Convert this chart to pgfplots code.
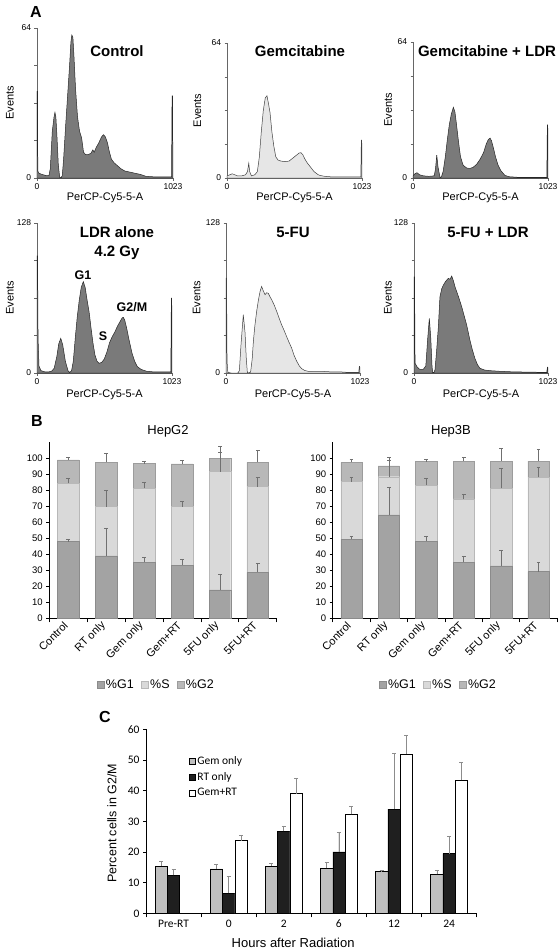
\documentclass[border=0pt]{standalone}
\usepackage{fontspec}
\setmainfont{Liberation Sans}
\newfontfamily\carlito{Carlito}
\usepackage{pgfplots}
\pgfplotsset{compat=1.18}
\definecolor{histdark}{HTML}{7A7A7A}
\definecolor{histlight}{HTML}{E6E6E6}
\definecolor{gone}{HTML}{A3A3A3}
\definecolor{sph}{HTML}{D9D9D9}
\definecolor{gtwo}{HTML}{B8B8B8}
\definecolor{errc}{HTML}{707070}
\newcommand{\fs}[1]{\fontsize{#1bp}{#1bp}\selectfont}
\pgfplotsset{
 hist/.style={scale only axis, xmin=0, xmax=1023, ymin=0, axis lines=left,
   axis line style={-, draw=black!60, line width=0.6pt},
   tick style={draw=black!60, line width=0.5pt}, tick align=outside, major tick length=2.5bp,
   xtick={0,1023}, xticklabels={0,1023},
   xlabel={PerCP-Cy5-5-A}, ylabel={Events},
   tick label style={font=\fs{8.5}}, label style={font=\fs{11}},
   xlabel style={at={(axis description cs:0.5,0)}, anchor=center, yshift=-20bp},
   clip=false},
 h64/.style={ymax=64, ytick={0,16,32,48,64}, yticklabels={0,,,,64}},
 h128/.style={ymax=128, ytick={0,32,64,96,128}, yticklabels={0,,,,128}},
 darkh/.style={fill=histdark, draw=black!85, line width=0.5pt},
 lighth/.style={fill=histlight, draw=black!75, line width=0.5pt},
 barB/.style={scale only axis, ybar stacked, ymin=0, ymax=110, xmin=-0.5, xmax=5.5, height=176bp,
   axis lines=left, axis line style={-, draw=black, line width=0.8pt},
   xtick={0,...,5}, xticklabels={Control,RT only,Gem only,Gem+RT,5FU only,5FU+RT},
   major x tick style={draw=none}, minor xtick={-0.5,0.5,...,5.5},
   minor x tick style={draw=black, line width=0.8pt},
   ytick={0,10,...,100}, ytick style={draw=black, line width=0.8pt},
   tick align=outside, major tick length=3bp, minor tick length=4bp,
   xticklabel style={rotate=45, anchor=east, font=\fs{11}},
   yticklabel style={font=\fs{9.5}},
   /pgf/number format/assume math mode=true,
   legend style={draw=none, fill=none, legend columns=3, font=\fs{12.5},
     /tikz/every even column/.append style={column sep=5bp},
     at={(axis description cs:0.47,-0.38)}, anchor=center},
   legend image code/.code={\fill[##1] (0bp,-3.5bp) rectangle (7bp,3.5bp);}},
 errB/.style={scale only axis, hide axis, ymin=0, ymax=110, xmin=-0.5, xmax=5.5, height=176bp},
 eb/.style={draw=none, mark=none, forget plot, error bars/.cd, y dir=plus, y explicit,
   error bar style={draw=errc, line width=0.6pt},
   error mark options={rotate=90, draw=errc, line width=0.6pt, mark size=1.8bp}},
 ebC/.style={error bars/.cd, y dir=plus, y explicit,
   error bar style={draw=black!45, line width=0.6pt},
   error mark options={rotate=90, draw=black!45, line width=0.6pt, mark size=2bp}},
 legC/.style={legend image code/.code={\draw[##1, line width=0.5pt] (0bp,-3bp) rectangle (6bp,3bp);}},
}
\begin{document}
\begin{tikzpicture}
\useasboundingbox (0,0) rectangle (559bp,-952bp);
% ---------------- Panel A ----------------
\begin{axis}[hist, h64, at={(37bp,-178bp)}, anchor=south west, width=136bp, height=150bp,
  ylabel style={at={(axis description cs:-0.2,0.5)}, anchor=center}]
\addplot[darkh] coordinates {(0,0) (0,37) (4,37) (6,3) (15,2) (40,1.5) (70,1) (90,1) (100,4) (115,20) (128,26) (135,28) (142,26) (150,18) (160,6) (170,0.5) (180,0) (190,1) (200,8) (215,22) (230,35) (245,48) (255,58) (262,61) (270,60) (278,52) (290,38) (305,26) (320,20) (336,17) (350,11) (365,10) (385,10) (405,10.5) (420,12) (430,11) (445,13) (465,15) (485,17.5) (500,18.5) (515,17.5) (530,15) (545,11) (560,8) (580,6.5) (600,5.5) (630,4) (660,3) (700,2.5) (740,2) (780,1.5) (820,0.7) (880,0.5) (940,0.5) (1012,0.5) (1014,18) (1016,35) (1020,35) (1022,0) (1023,0)} \closedcycle;
\end{axis}
\begin{axis}[hist, h64, at={(227bp,-178bp)}, anchor=south west, width=135bp, height=135bp,
  ylabel style={at={(axis description cs:-0.22,0.5)}, anchor=center}]
\addplot[lighth] coordinates {(0,0) (0,1) (20,1.5) (40,2) (60,1.5) (80,1) (110,1) (140,1.5) (155,3) (165,7) (172,3) (185,1) (210,1.5) (230,3) (245,10) (260,22) (275,32) (290,38) (303,39) (315,35) (326,31) (340,22) (355,15) (370,10) (387,8.5) (410,8) (440,7.8) (470,8) (490,9) (510,10) (530,11) (545,11.8) (560,12) (575,11) (590,9) (610,7) (635,5) (660,3) (690,1.6) (705,1.2) (740,0.8) (800,0.5) (900,0.5) (1014,0.5) (1016,9) (1018,18) (1021,18) (1022,0) (1023,0)} \closedcycle;
\end{axis}
\begin{axis}[hist, h64, at={(413bp,-178bp)}, anchor=south west, width=135bp, height=136bp,
  ylabel style={at={(axis description cs:-0.185,0.5)}, anchor=center}]
\addplot[darkh] coordinates {(0,0) (0,1) (15,2) (30,2.5) (50,1.5) (80,1) (120,0.8) (160,1) (170,4) (180,10.8) (190,5) (205,0.3) (215,0.5) (228,3) (245,10) (260,18) (275,25) (290,30) (306,33.3) (318,31) (330,25) (345,17) (360,10) (380,6) (407,4.7) (430,4.5) (455,5) (483,6.5) (510,9) (535,12) (555,16) (570,18) (584,18.8) (595,17.5) (610,14) (625,10) (645,6) (665,3.5) (697,1.2) (730,0.6) (800,0.3) (900,0.3) (1014,0.3) (1016,12) (1018,25) (1021,25) (1022,0) (1023,0)} \closedcycle;
\end{axis}
\begin{axis}[hist, h128, at={(37bp,-373bp)}, anchor=south west, width=135bp, height=150bp,
  ylabel style={at={(axis description cs:-0.2,0.5)}, anchor=center}, xlabel style={yshift=-2bp}]
\addplot[darkh] coordinates {(0,0) (0,100) (4,100) (8,30) (15,6) (30,2) (60,1) (90,1) (110,1.5) (130,4) (150,14) (165,25) (180,29.6) (195,24) (215,10) (235,2) (247,0.5) (262,2) (275,10) (290,30) (305,48) (320,62) (335,73) (351,78) (365,73) (380,62) (395,52) (410,38) (425,25) (440,15) (455,10) (470,8.3) (490,9) (510,12) (530,18) (550,26) (570,31) (590,35) (610,40) (630,44) (645,47) (654,47.5) (665,45) (680,38) (700,27) (720,17) (740,10) (760,5.5) (790,3) (830,1.5) (880,1) (950,1) (1014,1) (1016,30) (1018,64) (1021,64) (1022,0) (1023,0)} \closedcycle;
\end{axis}
\begin{axis}[hist, h128, at={(226bp,-373bp)}, anchor=south west, width=134bp, height=150bp,
  ylabel style={at={(axis description cs:-0.22,0.5)}, anchor=center}, xlabel style={yshift=-2bp}]
\addplot[lighth] coordinates {(0,0) (0,81) (4,81) (8,10) (14,0.5) (40,0) (90,0) (102,2) (115,25) (132,49.7) (145,35) (155,12) (163,0.5) (175,0) (188,1) (200,12) (209,27) (220,40) (234,52.6) (247,62) (260,69.6) (272,73.9) (285,70) (298,66.8) (310,68.5) (323,68) (336,65) (349,62.5) (368,58) (387,52.6) (405,47) (425,41) (445,36) (463,31) (482,26) (501,21.3) (520,15) (540,10) (560,6) (578,3.7) (600,2.2) (629,1.4) (680,1.2) (750,1.3) (800,1) (870,1) (930,0.5) (1014,0.5) (1016,4) (1019,5.7) (1021,5.7) (1022,0) (1023,0)} \closedcycle;
\end{axis}
\begin{axis}[hist, h128, at={(414bp,-373bp)}, anchor=south west, width=134bp, height=150bp,
  ylabel style={at={(axis description cs:-0.195,0.5)}, anchor=center}, xlabel style={yshift=-2bp}]
\addplot[darkh] coordinates {(0,0) (0,82) (4,82) (8,8.3) (25,5) (45,3) (70,3) (90,6) (105,30) (117,46.7) (128,30) (138,5) (143,0.5) (152,0.5) (160,2.6) (172,18) (186,39.5) (198,65) (212,72) (224,75) (240,78) (262,80.8) (275,80) (288,82.7) (300,79) (313,73.6) (340,65) (364,56.6) (385,48) (402,41) (427,28) (445,20) (465,12.5) (485,7) (504,4) (540,2.5) (580,2) (650,1.5) (750,1) (850,0.8) (1014,0.5) (1016,3) (1019,5) (1021,5) (1022,0) (1023,0)} \closedcycle;
\end{axis}
\node[font=\bfseries\fs{16}] at (36bp,-12bp) {A};
\node[font=\bfseries\fs{15}] at (117bp,-51bp) {Control};
\node[font=\bfseries\fs{15}] at (300bp,-51bp) {Gemcitabine};
\node[font=\bfseries\fs{15}] at (487bp,-51bp) {Gemcitabine + LDR};
\node[font=\bfseries\fs{15}] at (117bp,-232bp) {LDR alone};
\node[font=\bfseries\fs{15}] at (117bp,-253bp) {4.2 Gy};
\node[font=\bfseries\fs{12.5}] at (83bp,-275bp) {G1};
\node[font=\bfseries\fs{12.5}] at (103bp,-336bp) {S};
\node[font=\bfseries\fs{12.5}] at (132bp,-307bp) {G2/M};
\node[font=\bfseries\fs{15}] at (293bp,-232bp) {5-FU};
\node[font=\bfseries\fs{15}] at (488bp,-232bp) {5-FU + LDR};
% ---------------- Panel B ----------------
\node[font=\bfseries\fs{16}] at (37bp,-421bp) {B};
\node[font=\fs{13}] at (168bp,-431bp) {HepG2};
\node[font=\fs{13}] at (451bp,-431bp) {Hep3B};
\begin{axis}[barB, at={(49.3bp,-618.3bp)}, anchor=south west, width=227.4bp, bar width=21.7bp]
\addplot[fill=gone, draw=gone!85!black] coordinates {(0,48) (1,39) (2,35) (3,33.3) (4,17.7) (5,28.75)};
\addplot[fill=sph, draw=sph!85!black] coordinates {(0,36.4) (1,30.8) (2,46.3) (3,36.5) (4,74) (5,53.55)};
\addplot[fill=gtwo, draw=gtwo!85!black] coordinates {(0,14.6) (1,27.7) (2,15.4) (3,26.7) (4,8.3) (5,15.2)};
\legend{\%G1,\%S,\%G2}
\end{axis}
\begin{axis}[errB, at={(49.3bp,-618.3bp)}, anchor=south west, width=227.4bp]
\addplot[eb] coordinates {(0,48) +- (0,1.4) (1,39) +- (0,17.5) (2,35) +- (0,3.1) (3,33.3) +- (0,3.6) (4,17.7) +- (0,10) (5,28.75) +- (0,5.65)};
\addplot[eb] coordinates {(0,84.4) +- (0,2.9) (1,69.8) +- (0,10.2) (2,81.3) +- (0,3.7) (3,69.8) +- (0,3.1) (4,91.7) +- (0,12) (5,82.3) +- (0,5.8)};
\addplot[eb] coordinates {(0,99) +- (0,1.6) (1,97.5) +- (0,5.5) (2,96.7) +- (0,1.6) (3,96.5) +- (0,2) (4,100) +- (0,7.3) (5,97.5) +- (0,7.7)};
\end{axis}
\begin{axis}[barB, at={(332.7bp,-618.3bp)}, anchor=south west, width=224.6bp, bar width=21.3bp]
\addplot[fill=gone, draw=gone!85!black] coordinates {(0,49.4) (1,64.6) (2,48.3) (3,35) (4,32.7) (5,29.2)};
\addplot[fill=sph, draw=sph!85!black] coordinates {(0,36) (1,23.9) (2,35) (3,39.6) (4,48.55) (5,58.9)};
\addplot[fill=gtwo, draw=gtwo!85!black] coordinates {(0,12.1) (1,6.7) (2,14.6) (3,23.7) (4,17.05) (5,10.2)};
\legend{\%G1,\%S,\%G2}
\end{axis}
\begin{axis}[errB, at={(332.7bp,-618.3bp)}, anchor=south west, width=224.6bp]
\addplot[eb] coordinates {(0,49.4) +- (0,1.6) (1,64.6) +- (0,17.3) (2,48.3) +- (0,3.2) (3,35) +- (0,3.5) (4,32.7) +- (0,10) (5,29.2) +- (0,5.8)};
\addplot[eb] coordinates {(0,85.4) +- (0,2.7) (1,88.5) +- (0,10.5) (2,83.3) +- (0,4.2) (3,74.6) +- (0,2.9) (4,81.25) +- (0,12.5) (5,88.1) +- (0,6.1)};
\addplot[eb] coordinates {(0,97.5) +- (0,2.1) (1,95.2) +- (0,5.4) (2,97.9) +- (0,1.5) (3,98.3) +- (0,2.1) (4,98.3) +- (0,7.95) (5,98.3) +- (0,7.5)};
\end{axis}
% ---------------- Panel C ----------------
\node[font=\bfseries\fs{16}] at (105bp,-717bp) {C};
\begin{axis}[scale only axis, at={(146bp,-913.3bp)}, anchor=south west, width=330.7bp, height=184bp,
  ybar=0pt, bar width=12.3bp, legC, ymin=0, ymax=60, xmin=-0.5, xmax=5.5,
  axis lines=left, axis line style={-, draw=black, line width=0.8pt},
  xtick={0,...,5}, xticklabels={Pre-RT,0,2,6,12,24},
  major x tick style={draw=none}, minor xtick={-0.5,0.5,...,5.5},
  minor x tick style={draw=black, line width=0.8pt},
  ytick={0,10,...,60}, ytick style={draw=black, line width=0.8pt},
  tick align=outside, major tick length=3bp, minor tick length=4bp,
  tick label style={font=\carlito\fs{11.5}},
  /pgf/number format/assume math mode=true,
  xlabel={Hours after Radiation}, ylabel={Percent cells in G2/M},
  xlabel style={font=\fs{13}, at={(axis description cs:0.445,-0.161)}, anchor=center},
  ylabel style={font=\fs{12.5}, at={(axis description cs:-0.103,0.49)}, anchor=center},
  legend style={draw=none, fill=none, font=\carlito\fs{11.5}, at={(axis description cs:0.12,0.875)}, anchor=north west,
    row sep=2.5bp, cells={anchor=west}}]
\addplot[fill=black!25, draw=black, line width=0.5pt, ebC] coordinates {(0,15.4) +- (0,1.4) (1,14.5) +- (0,1.5) (2,15.4) +- (0,0.9) (3,14.7) +- (0,1.8) (4,13.6) +- (0,0.4) (5,12.7) +- (0,1.3)};
\addplot[fill=black!88, draw=black, line width=0.5pt, ebC] coordinates {(0,12.4) +- (0,1.9) (1,6.5) +- (0,5.5) (2,26.7) +- (0,1.6) (3,20) +- (0,6.5) (4,34) +- (0,18.2) (5,19.5) +- (0,5.5)};
\addplot[fill=white, draw=black, line width=0.5pt, ebC] coordinates {(1,23.7) +- (0,1.8) (2,39) +- (0,5) (3,32.3) +- (0,2.5) (4,52) +- (0,6.2) (5,43.4) +- (0,5.7)};
\legend{Gem only,RT only,Gem+RT}
\end{axis}
\end{tikzpicture}
\end{document}
